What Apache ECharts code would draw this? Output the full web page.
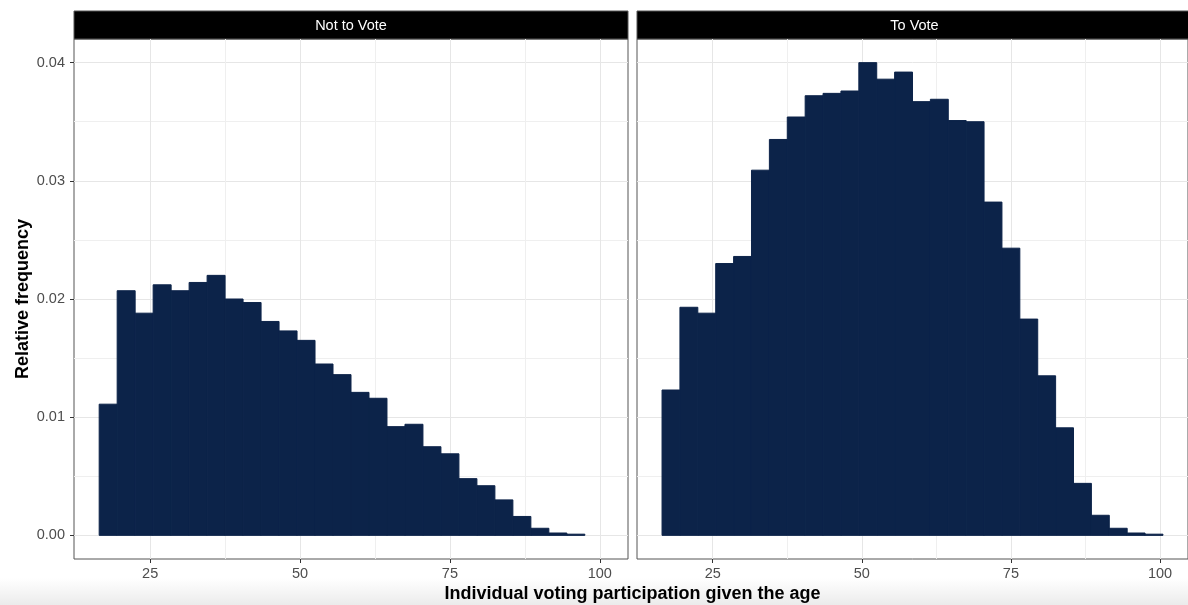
<!DOCTYPE html>
<html>
<head>
<meta charset="utf-8">
<script src="https://cdn.jsdelivr.net/npm/echarts@6/dist/echarts.min.js"></script>
<style>
html,body{margin:0;padding:0;background:#fff;}
#chart{width:1188px;height:605px;}
</style>
</head>
<body>
<div id="chart"></div>
<script>
// ---- data ----
var panelNames = ['Not to Vote', 'To Vote'];
var binEdges = [16.5, 19.5, 22.5, 25.5, 28.5, 31.5, 34.5, 37.5, 40.5, 43.5, 46.5, 49.5, 52.5, 55.5,
                58.5, 61.5, 64.5, 67.5, 70.5, 73.5, 76.5, 79.5, 82.5, 85.5, 88.5, 91.5, 94.5, 97.5, 100.5];
var notToVote = [0.0111, 0.0207, 0.0188, 0.0212, 0.0207, 0.0214, 0.0220, 0.0200, 0.0197, 0.0181,
                 0.0173, 0.0165, 0.0145, 0.0136, 0.0121, 0.0116, 0.0092, 0.0094, 0.0075, 0.0069,
                 0.0048, 0.0042, 0.0030, 0.0016, 0.0006, 0.0002, 0.0001];
var toVote = [0.0123, 0.0193, 0.0188, 0.0230, 0.0236, 0.0309, 0.0335, 0.0354, 0.0372, 0.0374,
              0.0376, 0.0400, 0.0386, 0.0392, 0.0367, 0.0369, 0.0351, 0.0350, 0.0282, 0.0243,
              0.0183, 0.0135, 0.0091, 0.0044, 0.0017, 0.0006, 0.0002, 0.0001];
var xTicks = [25, 50, 75, 100];
var xMinorTicks = [37.5, 62.5, 87.5];
var yTicks = [0, 0.01, 0.02, 0.03, 0.04];
var yMinorTicks = [0.005, 0.015, 0.025, 0.035];
var xTitle = 'Individual voting participation given the age';
var yTitle = 'Relative frequency';

// ---- style ----
var barColor = '#0c2349';
var font = 'Liberation Sans, Arial, Helvetica, sans-serif';
var xMin = 12.3, xMax = 104.7, yMin = -0.002, yMax = 0.042;

function toRows(values) {
  return values.map(function (v, i) { return [binEdges[i], binEdges[i + 1], v]; });
}

function renderBin(params, api) {
  var p0 = api.coord([api.value(0), api.value(2)]);
  var p1 = api.coord([api.value(1), 0]);
  return {
    type: 'rect',
    shape: { x: p0[0], y: p0[1], width: p1[0] - p0[0], height: p1[1] - p0[1] },
    style: { fill: barColor, stroke: barColor, lineWidth: 1 }
  };
}

function majorX(grid, showLabels) {
  return {
    type: 'value', gridIndex: grid, min: xMin, max: xMax, position: 'bottom',
    axisLine: { show: false, onZero: false },
    axisTick: { show: true, customValues: xTicks, length: 4, lineStyle: { color: '#333', width: 1 } },
    axisLabel: { show: showLabels, customValues: xTicks, color: '#4d4d4d', fontSize: 14.5, fontFamily: font, margin: 7 },
    splitLine: { show: true, lineStyle: { color: '#e6e6e6', width: 1 } }
  };
}
function minorX(grid) {
  return {
    type: 'value', gridIndex: grid, min: xMin, max: xMax, position: 'bottom',
    axisLine: { show: false, onZero: false },
    axisTick: { show: false, customValues: xMinorTicks },
    axisLabel: { show: false, customValues: xMinorTicks },
    splitLine: { show: true, lineStyle: { color: '#efefef', width: 1 } }
  };
}
function majorY(grid, showLabels) {
  return {
    type: 'value', gridIndex: grid, min: yMin, max: yMax, position: 'left',
    axisLine: { show: false, onZero: false },
    axisTick: { show: showLabels, customValues: yTicks, length: 4, lineStyle: { color: '#333', width: 1 } },
    axisLabel: {
      show: showLabels, customValues: yTicks, color: '#4d4d4d', fontSize: 14.5, fontFamily: font, margin: 9,
      formatter: function (v) { return v.toFixed(2); }
    },
    splitLine: { show: true, lineStyle: { color: '#e6e6e6', width: 1 } }
  };
}
function minorY(grid) {
  return {
    type: 'value', gridIndex: grid, min: yMin, max: yMax, position: 'left',
    axisLine: { show: false, onZero: false },
    axisTick: { show: false, customValues: yMinorTicks },
    axisLabel: { show: false, customValues: yMinorTicks },
    splitLine: { show: true, lineStyle: { color: '#efefef', width: 1 } }
  };
}

var chart = echarts.init(document.getElementById('chart'), null, { renderer: 'canvas' });
var option = {
  backgroundColor: '#fff',
  animation: false,
  grid: [
    { left: 74, top: 39, width: 554, height: 520, show: true, borderColor: '#555', borderWidth: 1, backgroundColor: 'transparent' },
    { left: 637, top: 39, width: 555, height: 520, show: true, borderColor: '#555', borderWidth: 1, backgroundColor: 'transparent' }
  ],
  xAxis: [majorX(0, true), minorX(0), majorX(1, true), minorX(1)],
  yAxis: [majorY(0, true), minorY(0), majorY(1, false), minorY(1)],
  series: [
    { type: 'custom', name: panelNames[0], xAxisIndex: 0, yAxisIndex: 0, renderItem: renderBin,
      encode: { x: [0, 1], y: 2 }, data: toRows(notToVote), z: 5 },
    { type: 'custom', name: panelNames[1], xAxisIndex: 2, yAxisIndex: 2, renderItem: renderBin,
      encode: { x: [0, 1], y: 2 }, data: toRows(toVote), z: 5 }
  ],
  graphic: [
    { type: 'rect', z: -10, shape: { x: 0, y: 578, width: 1188, height: 27 },
      style: { fill: new echarts.graphic.LinearGradient(0, 0, 0, 1, [
        { offset: 0, color: 'rgba(236,236,236,0)' }, { offset: 1, color: '#ebebeb' }]) } },
    { type: 'rect', shape: { x: 74, y: 11, width: 554, height: 28 }, style: { fill: '#000', stroke: '#555', lineWidth: 1 } },
    { type: 'rect', shape: { x: 637, y: 11, width: 555, height: 28 }, style: { fill: '#000', stroke: '#555', lineWidth: 1 } },
    { type: 'text', x: 351, y: 25.5, style: { text: panelNames[0], fill: '#fff', font: '14.5px ' + font, textAlign: 'center', textVerticalAlign: 'middle' } },
    { type: 'text', x: 914.5, y: 25.5, style: { text: panelNames[1], fill: '#fff', font: '14.5px ' + font, textAlign: 'center', textVerticalAlign: 'middle' } },
    { type: 'text', x: 632.5, y: 594, z: 10, style: { text: xTitle, fill: '#000', font: 'bold 18px ' + font, textAlign: 'center', textVerticalAlign: 'middle' } },
    { type: 'text', x: 23, y: 299, rotation: Math.PI / 2, style: { text: yTitle, fill: '#000', font: 'bold 18px ' + font, textAlign: 'center', textVerticalAlign: 'middle' } }
  ]
};
chart.setOption(option);
</script>
</body>
</html>
